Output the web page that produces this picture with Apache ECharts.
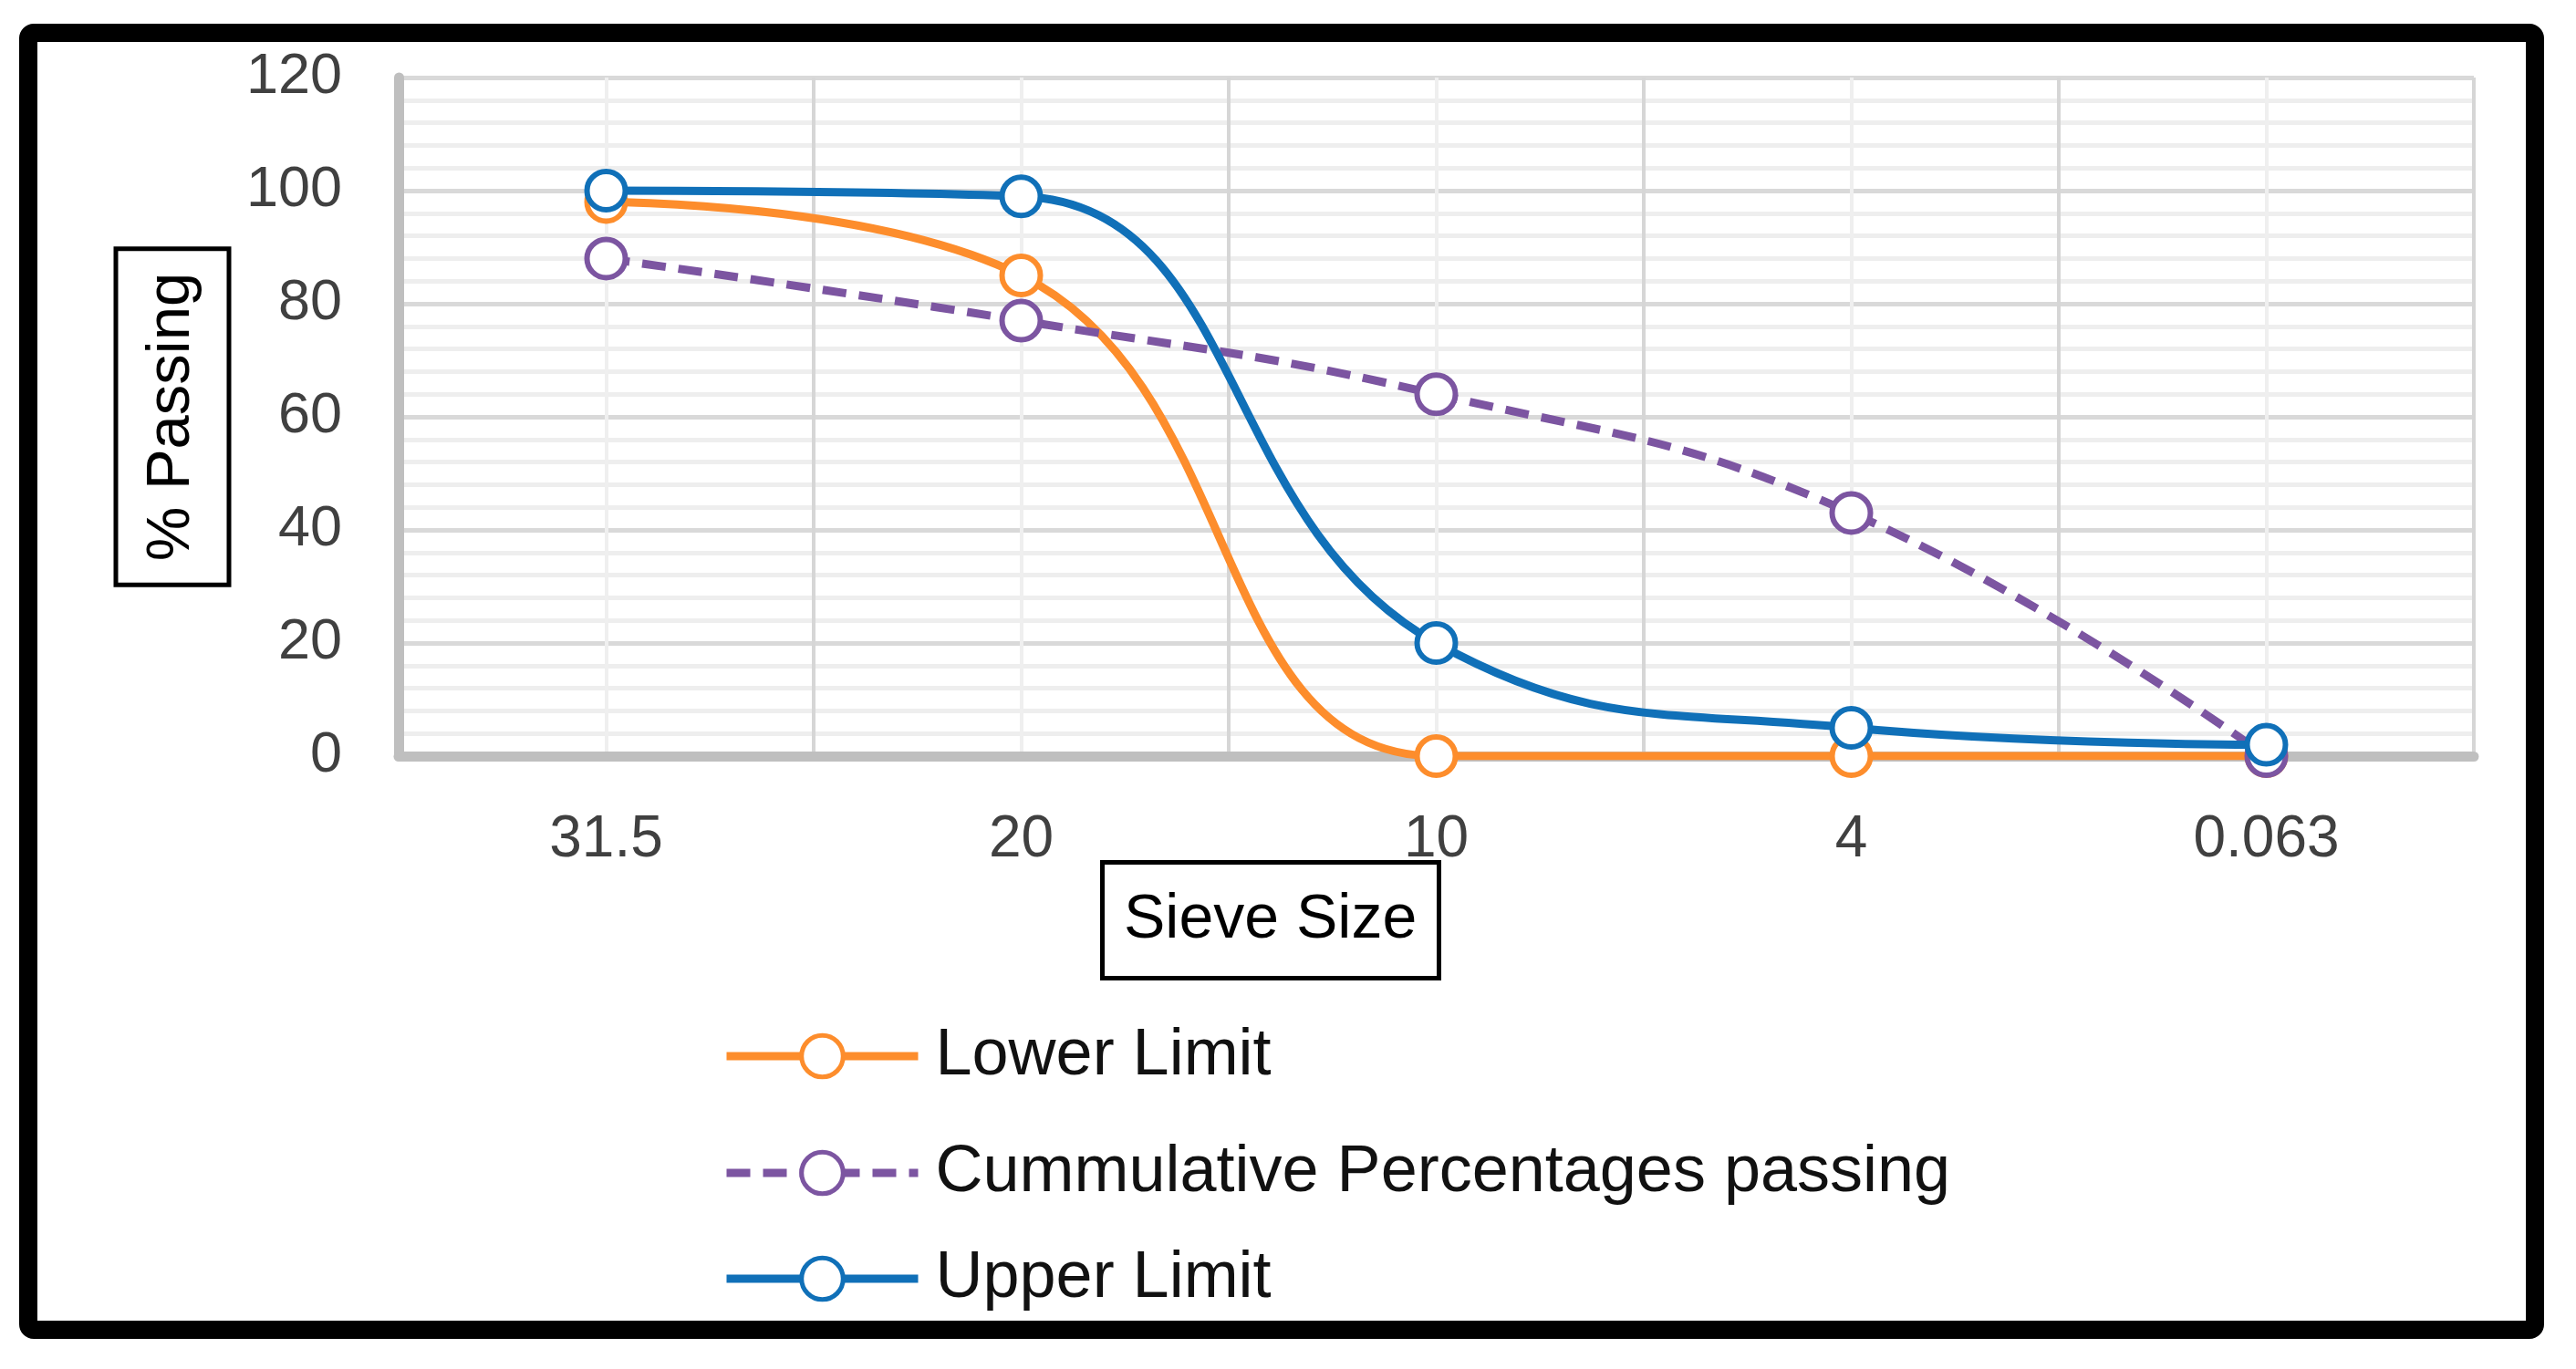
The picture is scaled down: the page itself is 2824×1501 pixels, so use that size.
<!DOCTYPE html>
<html>
<head>
<meta charset="utf-8">
<title>Sieve analysis</title>
<script src="https://cdn.jsdelivr.net/npm/echarts@6/dist/echarts.min.js"></script>
<style>
  html, body { margin: 0; padding: 0; background: #fff; }
  #chart { width: 2824px; height: 1501px; }
</style>
</head>
<body>
<div id="chart"></div>
<script>
// sieve sizes (category axis)
var sieveSizes = ['31.5', '20', '10', '4', '0.063'];
// values (% passing)
var lowerLimit = [98, 85, 0, 0, 0];
var cumulativePassing = [88, 77, 64, 43, 0];
var upperLimit = [100, 99, 20, 5, 2];
var yTicks = [0, 20, 40, 60, 80, 100, 120];

var FONT = '"Liberation Sans", Arial, sans-serif';
var ORANGE = '#fd8d2c';
var PURPLE = '#7c55a1';
var BLUE = '#1070b8';

function lineSeries(name, data, color, dashed) {
    return {
        name: name,
        type: 'line',
        smooth: 0.45,
        data: data,
        symbol: 'circle',
        symbolSize: 42,
        itemStyle: {
            color: '#fff',
            borderColor: color,
            borderWidth: 6
        },
        lineStyle: {
            color: color,
            width: 9,
            type: dashed ? [26, 14] : 'solid'
        },
        emphasis: { disabled: true }
    };
}

function legendAt(name, top) {
    return {
        data: [name],
        orient: 'vertical',
        left: 792,
        top: top,
        padding: 0,
        itemWidth: 210,
        itemHeight: 57,
        itemStyle: { borderWidth: 5 },
        lineStyle: { width: 9 },
        textStyle: {
            fontFamily: FONT,
            fontSize: 72,
            color: '#111',
            lineHeight: 57,
            padding: [0, 0, 0, 14]
        }
    };
}

var chart = echarts.init(document.getElementById('chart'));

var option = {
    backgroundColor: '#fff',
    animation: false,
    title: {
        text: 'Sieve Size',
        left: 1208,
        top: 945,
        padding: [24, 24, 24, 24],
        borderColor: '#000',
        borderWidth: 5,
        textStyle: {
            fontFamily: FONT,
            fontSize: 68,
            fontWeight: 'normal',
            color: '#000',
            lineHeight: 80
        }
    },
    legend: [
        legendAt('Lower Limit', 1122),
        legendAt('Cummulative Percentages passing', 1250),
        legendAt('Upper Limit', 1366)
    ],
    grid: {
        left: 437,
        right: 112,
        top: 85,
        bottom: 672,
        outerBoundsMode: 'none'
    },
    xAxis: [{
        type: 'category',
        data: sieveSizes,
        boundaryGap: true,
        axisTick: { show: false },
        axisLine: {
            show: true,
            lineStyle: { color: '#bfbfbf', width: 11 }
        },
        axisLabel: {
            margin: 60,
            fontFamily: FONT,
            fontSize: 64,
            color: '#404040'
        },
        splitLine: { show: false },
        z: 3
    }, {
        // hidden helper axis: gridlines at category edges and centres
        type: 'value',
        min: 0,
        max: 10,
        interval: 1,
        position: 'bottom',
        axisLine: { show: false },
        axisTick: { show: false },
        axisLabel: { show: false },
        splitLine: {
            show: true,
            lineStyle: { color: ['#d6d6d6', '#efefef'], width: 4 }
        }
    }],
    yAxis: {
        type: 'value',
        min: 0,
        max: 120,
        interval: 20,
        name: '% Passing',
        nameLocation: 'middle',
        nameRotate: 90,
        nameGap: 186,
        nameTextStyle: {
            fontFamily: FONT,
            fontSize: 67,
            color: '#000',
            lineHeight: 80,
            borderColor: '#000',
            borderWidth: 5,
            padding: [22, 26, 22, 26]
        },
        axisLine: {
            show: true,
            lineStyle: { color: '#bfbfbf', width: 11 }
        },
        axisTick: { show: false },
        axisLabel: {
            margin: 62,
            fontFamily: FONT,
            fontSize: 63,
            color: '#404040',
            formatter: function (v) { return yTicks.indexOf(v) >= 0 ? String(v) : ''; }
        },
        splitLine: {
            show: true,
            lineStyle: { color: '#d9d9d9', width: 5 }
        },
        minorTick: { show: false, splitNumber: 5 },
        minorSplitLine: {
            show: true,
            lineStyle: { color: '#eeeeee', width: 5 }
        }
    },
    series: [
        lineSeries('Lower Limit', lowerLimit, ORANGE, false),
        lineSeries('Cummulative Percentages passing', cumulativePassing, PURPLE, true),
        lineSeries('Upper Limit', upperLimit, BLUE, false)
    ],
    graphic: [{
        type: 'rect',
        shape: { x: 31, y: 36, width: 2748, height: 1422, r: 6 },
        style: { fill: 'none', stroke: '#000', lineWidth: 20 },
        z: 100
    }]
};

chart.setOption(option);
</script>
</body>
</html>
